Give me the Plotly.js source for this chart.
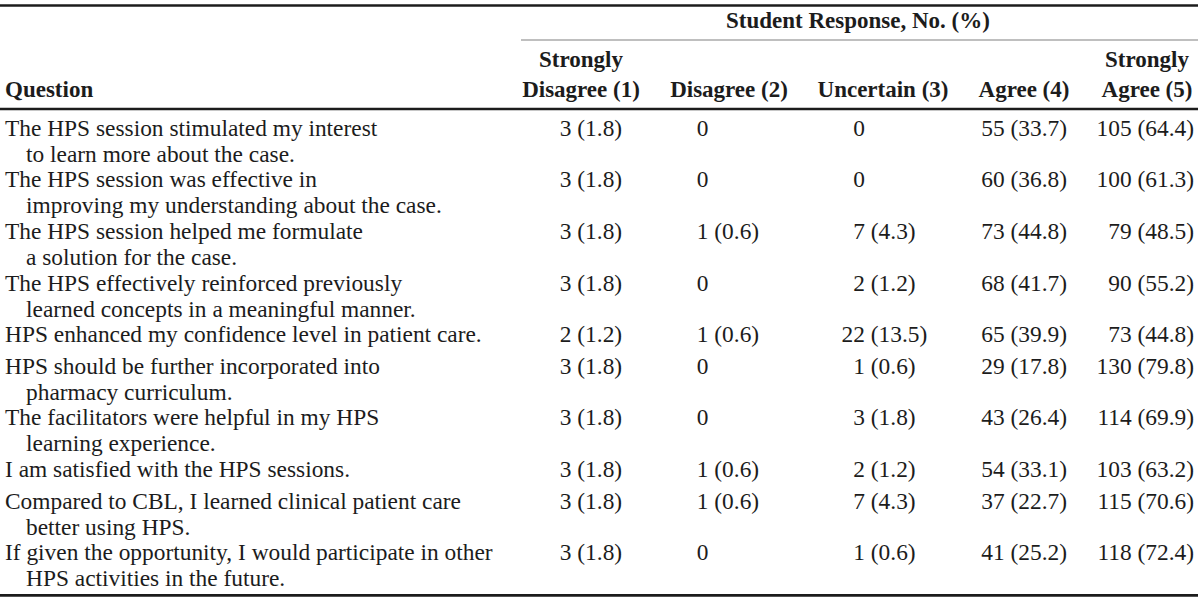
<!DOCTYPE html>
<html>
<head>
<meta charset="utf-8">
<script src="https://cdn.plot.ly/plotly-3.0.1.min.js"></script>
<style>
html,body{margin:0;padding:0;background:#fff;}
#chart{width:1200px;height:610px;}
</style>
</head>
<body>
<div id="chart"></div>
<script>
// ---------- data ----------
const questions = [
  ["The HPS session stimulated my interest", "to learn more about the case."],
  ["The HPS session was effective in", "improving my understanding about the case."],
  ["The HPS session helped me formulate", "a solution for the case."],
  ["The HPS effectively reinforced previously", "learned concepts in a meaningful manner."],
  ["HPS enhanced my confidence level in patient care."],
  ["HPS should be further incorporated into", "pharmacy curriculum."],
  ["The facilitators were helpful in my HPS", "learning experience."],
  ["I am satisfied with the HPS sessions."],
  ["Compared to CBL, I learned clinical patient care", "better using HPS."],
  ["If given the opportunity, I would participate in other", "HPS activities in the future."]
];
const groupTitle = "Student Response, No. (%)";
const questionHeader = "Question";
const headerTop = ["Strongly", "", "", "", "Strongly"];
const headerBottom = ["Disagree (1)", "Disagree (2)", "Uncertain (3)", "Agree (4)", "Agree (5)"];

const sdN = [3, 3, 3, 3, 2, 3, 3, 3, 3, 3];
const sdP = [1.8, 1.8, 1.8, 1.8, 1.2, 1.8, 1.8, 1.8, 1.8, 1.8];
const dN  = [0, 0, 1, 0, 1, 0, 0, 1, 1, 0];
const dP  = [null, null, 0.6, null, 0.6, null, null, 0.6, 0.6, null];
const uN  = [0, 0, 7, 2, 22, 1, 3, 2, 7, 1];
const uP  = [null, null, 4.3, 1.2, 13.5, 0.6, 1.8, 1.2, 4.3, 0.6];
const aN  = [55, 60, 73, 68, 65, 29, 43, 54, 37, 41];
const aP  = [33.7, 36.8, 44.8, 41.7, 39.9, 17.8, 26.4, 33.1, 22.7, 25.2];
const saN = [105, 100, 79, 90, 73, 130, 114, 103, 115, 118];
const saP = [64.4, 61.3, 48.5, 55.2, 44.8, 79.8, 69.9, 63.2, 70.6, 72.4];

// ---------- layout parameters ----------
const W = 1200, H = 610;
const FONT = "Liberation Serif, 'Times New Roman', Times, serif";
const INK = "#1c1c1c";
const FS = 23.4, FSB = 23;
const LINE_H = 26;            // spacing of wrapped lines inside a row
const PITCH_MULTI = 51.6;     // row pitch for two-line rows
const PITCH_SINGLE = 31.6;    // row pitch for one-line rows
const FIRST_Y = 130;
const Q_X = 5, Q_INDENT = 21;
const countRight = [571.5, 708.5, 865, 1004.7, 1131.7];
const headCenter = [581, 729, 883, 1024, 1147];
const SPACE = 5.8;

const cols = [[sdN, sdP], [dN, dP], [uN, uP], [aN, aP], [saN, saP]];

const rowY = [];
let y = FIRST_Y;
questions.forEach(q => { rowY.push(y); y += q.length > 1 ? PITCH_MULTI + (q.length - 2) * LINE_H : PITCH_SINGLE; });
const lastLineY = rowY[rowY.length - 1] + (questions[questions.length - 1].length - 1) * LINE_H;

const traces = [];
const qx = [], qy = [], qt = [];
questions.forEach((q, i) => q.forEach((line, j) => {
  qx.push(j === 0 ? Q_X : Q_X + Q_INDENT);
  qy.push(rowY[i] + j * LINE_H);
  qt.push(line);
}));
traces.push({type: "scatter", mode: "text", x: qx, y: qy, text: qt, textposition: "middle right",
  textfont: {family: FONT, size: FS, color: INK}, hoverinfo: "skip"});

cols.forEach((c, ci) => {
  const [N, P] = c;
  traces.push({type: "scatter", mode: "text", x: N.map(() => countRight[ci]), y: rowY,
    text: N.map(String), textposition: "middle left",
    textfont: {family: FONT, size: FS, color: INK}, hoverinfo: "skip"});
  traces.push({type: "scatter", mode: "text", x: P.map(() => countRight[ci] + SPACE), y: rowY,
    text: P.map(p => p == null ? "" : "(" + p.toFixed(1) + ")"), textposition: "middle right",
    textfont: {family: FONT, size: FS, color: INK}, hoverinfo: "skip"});
});

const HEAD_TOP_Y = 61, HEAD_BOT_Y = 91, GROUP_Y = 22;
traces.push({type: "scatter", mode: "text", x: headCenter.concat(headCenter),
  y: headerTop.map(() => HEAD_TOP_Y).concat(headerBottom.map(() => HEAD_BOT_Y)),
  text: headerTop.concat(headerBottom), textposition: "middle center",
  textfont: {family: FONT, size: FSB, color: INK, weight: "bold"}, hoverinfo: "skip"});
traces.push({type: "scatter", mode: "text", x: [Q_X], y: [HEAD_BOT_Y], text: [questionHeader],
  textposition: "middle right", textfont: {family: FONT, size: FSB, color: INK, weight: "bold"}, hoverinfo: "skip"});
traces.push({type: "scatter", mode: "text", x: [858], y: [GROUP_Y], text: [groupTitle],
  textposition: "middle center", textfont: {family: FONT, size: FSB, color: INK, weight: "bold"}, hoverinfo: "skip"});

const TOP_RULE = 5.5, GROUP_RULE = 40, HEAD_RULE = 109, BOTTOM_RULE = lastLineY + 15;
const shapes = [
  {type: "line", xref: "x", yref: "y", x0: 0, x1: 1198, y0: TOP_RULE, y1: TOP_RULE, line: {color: INK, width: 2.6}},
  {type: "line", xref: "x", yref: "y", x0: 521, x1: 1198, y0: GROUP_RULE, y1: GROUP_RULE, line: {color: "#808080", width: 1.2}},
  {type: "line", xref: "x", yref: "y", x0: 0, x1: 1198, y0: HEAD_RULE, y1: HEAD_RULE, line: {color: INK, width: 2.4}},
  {type: "line", xref: "x", yref: "y", x0: 0, x1: 1198, y0: BOTTOM_RULE, y1: BOTTOM_RULE, line: {color: INK, width: 2.6}}
];

const layout = {
  width: W, height: H,
  margin: {l: 0, r: 0, t: 0, b: 0, pad: 0},
  paper_bgcolor: "#fff", plot_bgcolor: "#fff",
  showlegend: false,
  xaxis: {range: [0, W], visible: false, fixedrange: true},
  yaxis: {range: [H, 0], visible: false, fixedrange: true},
  shapes: shapes
};
Plotly.newPlot("chart", traces, layout, {staticPlot: true, displayModeBar: false});
</script>
</body>
</html>
